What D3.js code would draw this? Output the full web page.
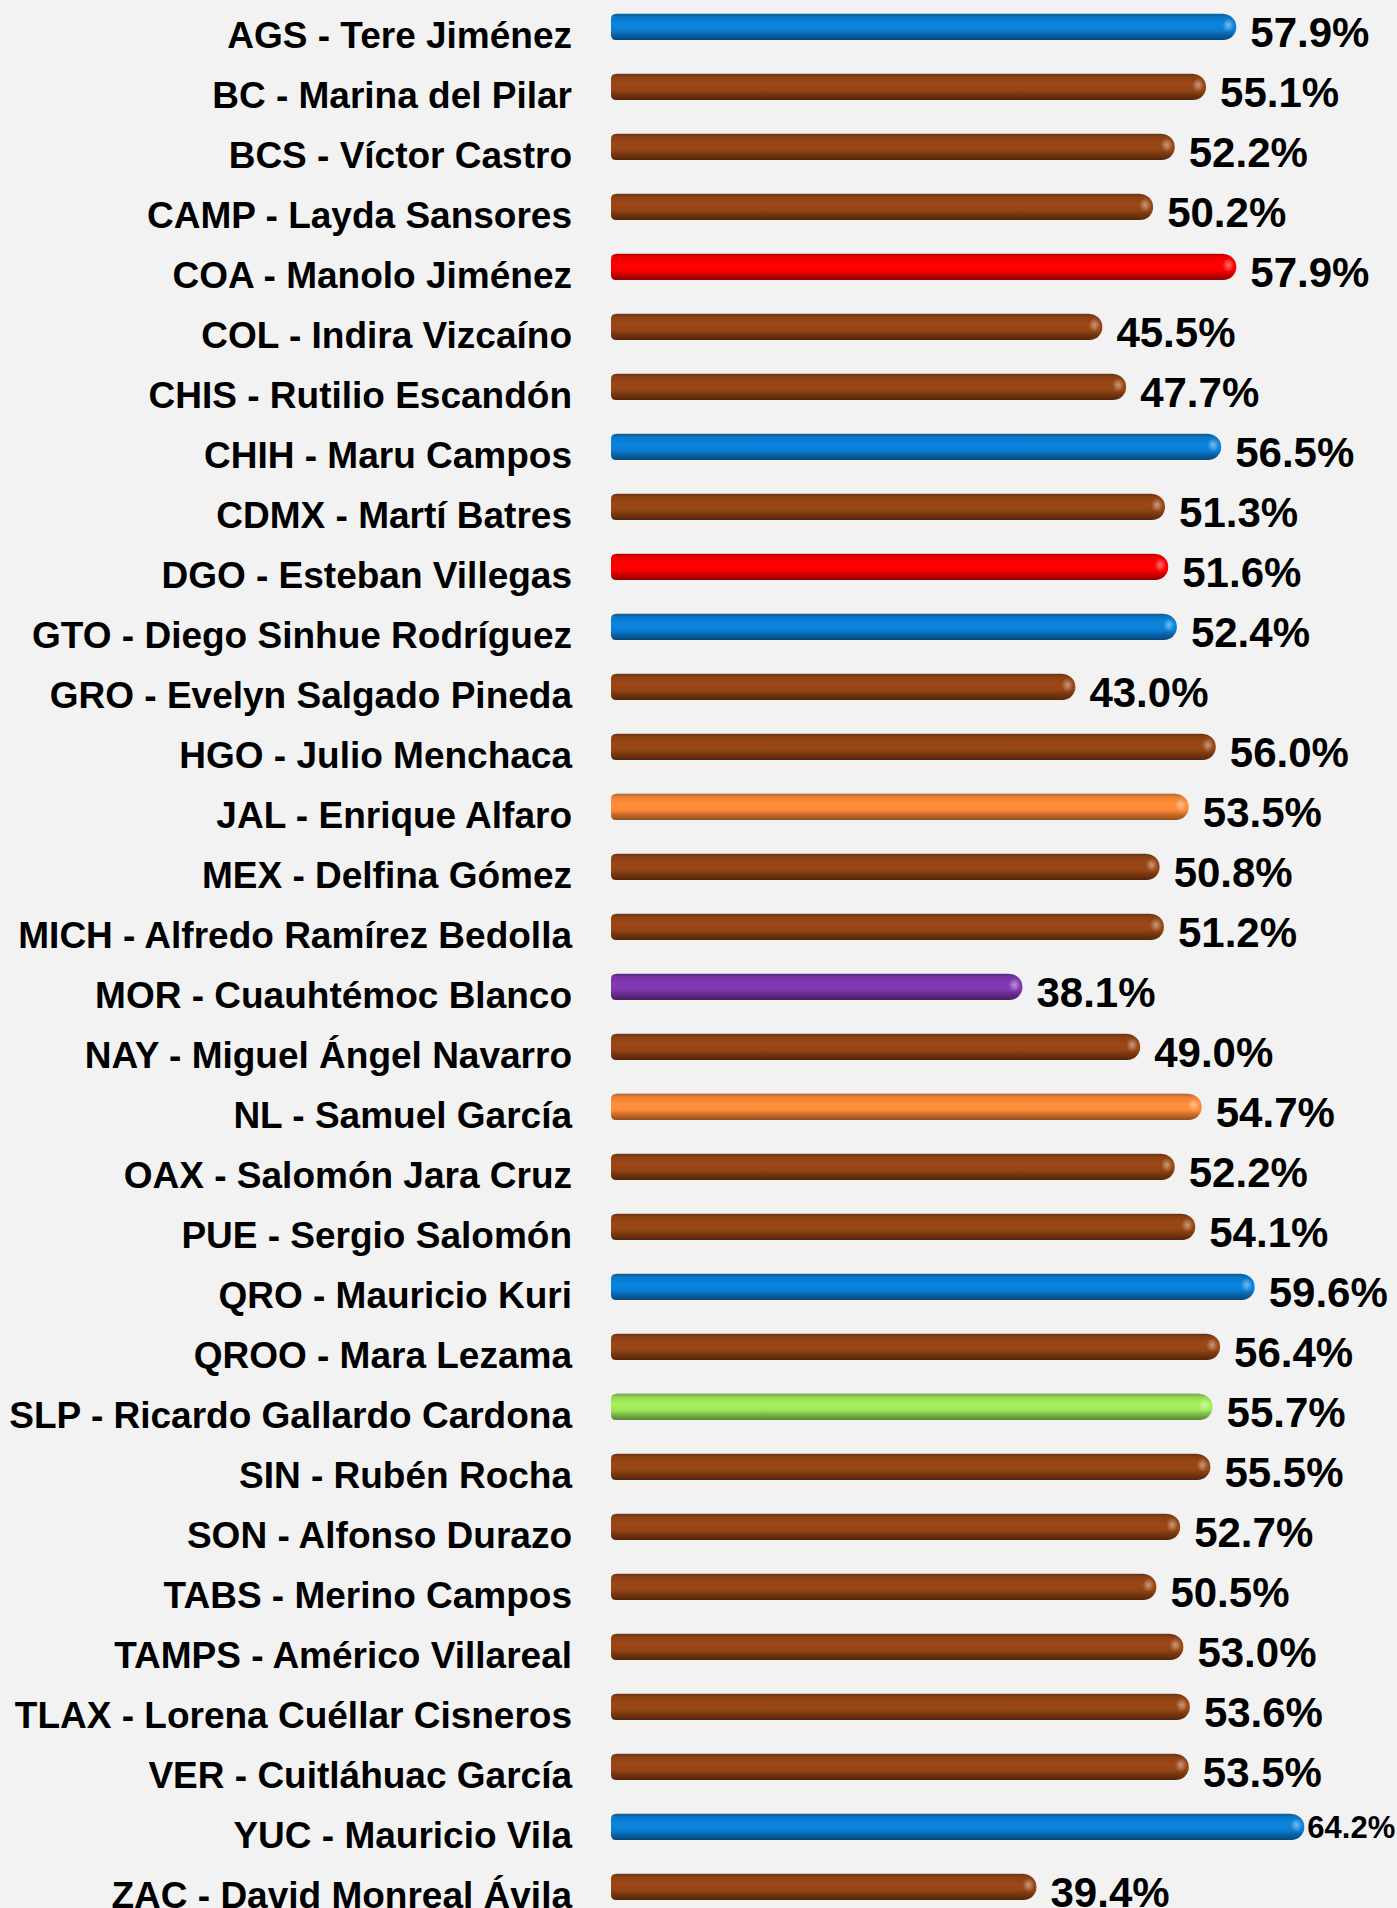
<!DOCTYPE html>
<html>
<head>
<meta charset="utf-8">
<script src="https://cdn.jsdelivr.net/npm/d3@7"></script>
<style>
  html, body { margin: 0; padding: 0; background: #f2f2f2; }
  svg { display: block; }
  text { font-family: "Liberation Sans", Arial, Helvetica, sans-serif; font-weight: bold; fill: #000; }
</style>
</head>
<body>
<svg id="chart"></svg>
<script>
var gobernadores = [
  "AGS - Tere Jiménez", "BC - Marina del Pilar", "BCS - Víctor Castro",
  "CAMP - Layda Sansores", "COA - Manolo Jiménez", "COL - Indira Vizcaíno",
  "CHIS - Rutilio Escandón", "CHIH - Maru Campos", "CDMX - Martí Batres",
  "DGO - Esteban Villegas", "GTO - Diego Sinhue Rodríguez", "GRO - Evelyn Salgado Pineda",
  "HGO - Julio Menchaca", "JAL - Enrique Alfaro", "MEX - Delfina Gómez",
  "MICH - Alfredo Ramírez Bedolla", "MOR - Cuauhtémoc Blanco", "NAY - Miguel Ángel Navarro",
  "NL - Samuel García", "OAX - Salomón Jara Cruz", "PUE - Sergio Salomón",
  "QRO - Mauricio Kuri", "QROO - Mara Lezama", "SLP - Ricardo Gallardo Cardona",
  "SIN - Rubén Rocha", "SON - Alfonso Durazo", "TABS - Merino Campos",
  "TAMPS - Américo Villareal", "TLAX - Lorena Cuéllar Cisneros", "VER - Cuitláhuac García",
  "YUC - Mauricio Vila", "ZAC - David Monreal Ávila"
];

var aprobacion = [
  57.9, 55.1, 52.2, 50.2, 57.9, 45.5, 47.7, 56.5, 51.3, 51.6, 52.4, 43.0,
  56.0, 53.5, 50.8, 51.2, 38.1, 49.0, 54.7, 52.2, 54.1, 59.6, 56.4, 55.7,
  55.5, 52.7, 50.5, 53.0, 53.6, 53.5, 64.2, 39.4
];

var partido = [
  "PAN", "MORENA", "MORENA", "MORENA", "PRI", "MORENA", "MORENA", "PAN",
  "MORENA", "PRI", "PAN", "MORENA", "MORENA", "MC", "MORENA", "MORENA",
  "PES", "MORENA", "MC", "MORENA", "MORENA", "PAN", "MORENA", "PVEM",
  "MORENA", "MORENA", "MORENA", "MORENA", "MORENA", "MORENA", "PAN", "MORENA"
];

var partidos = ["PAN", "MORENA", "PRI", "MC", "PES", "PVEM"];
var coloresPartido = ["#0a7fd6", "#954514", "#ff0000", "#ff8a38", "#7f37b0", "#9ee85a"];

///////////////////////////////////////////////////////////////////////////////

var width = 1397, height = 1908;
var barH = 26;

var data = gobernadores.map(function (g, i) {
  return { nombre: g, valor: aprobacion[i], partido: partido[i], i: i };
});

var svg = d3.select("#chart").attr("width", width).attr("height", height);

var x = d3.scaleLinear().domain([0, 70]).range([611, 611 + 70 * 10.8]);
var y = d3.scaleBand().domain(gobernadores).range([-3, -3 + 60 * gobernadores.length]);
var color = d3.scaleOrdinal().domain(partidos).range(coloresPartido);

// one cylinder-like gradient per party
var defs = svg.append("defs");
partidos.forEach(function (p) {
  var c = d3.color(color(p));
  var g = defs.append("linearGradient")
    .attr("id", "grad-" + p)
    .attr("x1", 0).attr("y1", 0).attr("x2", 0).attr("y2", 1);
  var stops = [
    [0, c.darker(0.9)],
    [0.12, c.darker(0.2)],
    [0.38, c.brighter(0.12)],
    [0.62, c],
    [0.82, c.darker(0.8)],
    [1, c.darker(1.6)]
  ];
  stops.forEach(function (s) {
    g.append("stop").attr("offset", s[0]).attr("stop-color", s[1].formatHex());
  });
});

var shine = defs.append("radialGradient").attr("id", "shine");
shine.append("stop").attr("offset", 0).attr("stop-color", "#fff").attr("stop-opacity", 0.45);
shine.append("stop").attr("offset", 1).attr("stop-color", "#fff").attr("stop-opacity", 0);

var barPath = function (x0, x1, yc) {
  var t = yc - barH / 2, b = yc + barH / 2;
  var rl = 5, rr = barH / 2;
  return "M" + (x0 + rl) + "," + t +
    " L" + (x1 - rr) + "," + t +
    " A" + rr + "," + rr + " 0 0 1 " + (x1 - rr) + "," + b +
    " L" + (x0 + rl) + "," + b +
    " Q" + x0 + "," + b + " " + x0 + "," + (b - rl) +
    " L" + x0 + "," + (t + rl) +
    " Q" + x0 + "," + t + " " + (x0 + rl) + "," + t + " Z";
};

var center = function (d) { return y(d.nombre) + y.bandwidth() / 2; };

///////////////////////////////////////////////////////////////////////////////

var rows = svg.selectAll("g.row")
  .data(data)
  .enter().append("g")
  .attr("class", "row");

// faint edge above each bar
rows.append("line")
  .attr("x1", function (d) { return x(0) + 5; })
  .attr("x2", function (d) { return x(d.valor) - barH / 2; })
  .attr("y1", function (d) { return center(d) - barH / 2 - 0.5; })
  .attr("y2", function (d) { return center(d) - barH / 2 - 0.5; })
  .attr("stroke", "#c8c8c8")
  .attr("stroke-width", 1);

rows.append("path")
  .attr("d", function (d) { return barPath(x(0), x(d.valor), center(d)); })
  .attr("fill", function (d) { return "url(#grad-" + d.partido + ")"; });

rows.append("ellipse")
  .attr("cx", function (d) { return x(d.valor) - 8; })
  .attr("cy", function (d) { return center(d) - 2; })
  .attr("rx", 6)
  .attr("ry", 7)
  .attr("fill", "url(#shine)");

rows.append("text")
  .attr("class", "nombre")
  .attr("x", 572)
  .attr("y", function (d) { return center(d) + 21; })
  .attr("text-anchor", "end")
  .style("font-size", "37px")
  .text(function (d) { return d.nombre; });

rows.append("text")
  .attr("class", "valor")
  .attr("x", function (d) { return x(d.valor) + 14; })
  .attr("y", function (d) { return center(d) + 20; })
  .style("font-size", "42px")
  .text(function (d) { return d.valor.toFixed(1) + "%"; })
  .each(function (d) {
    // labels that would run off the right edge get a smaller font
    var node = d3.select(this);
    if (x(d.valor) + 14 + this.getComputedTextLength() > width) {
      node.attr("x", x(d.valor) + 3)
        .attr("y", center(d) + 11)
        .style("font-size", "31px");
    }
  });
</script>
</body>
</html>
